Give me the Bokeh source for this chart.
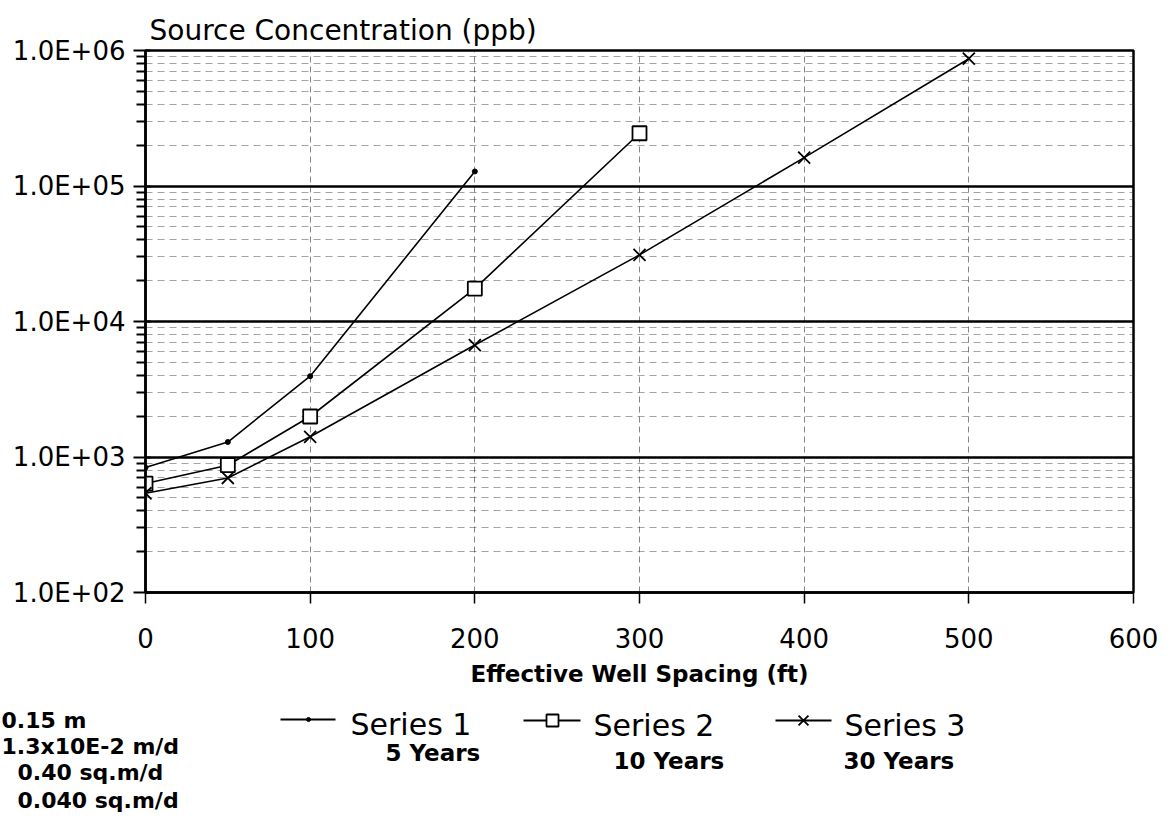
from bokeh.plotting import figure
from bokeh.layouts import column
from bokeh.models import Range1d, FixedTicker
from bokeh.core.properties import value
from bokeh.embed import file_html
from bokeh.resources import INLINE

# ---- data ----
spacing_s1 = [0, 50, 100, 200]
conc_s1 = [836, 1290, 3950, 128000]
spacing_s2 = [0, 50, 100, 200, 300]
conc_s2 = [637, 870, 1990, 17500, 245000]
spacing_s3 = [0, 50, 100, 200, 300, 400, 500]
conc_s3 = [540, 700, 1410, 6700, 31000, 162000, 870000]

series_names = ["Series 1", "Series 2", "Series 3"]
durations = ["5 Years", "10 Years", "30 Years"]
params = ["0.15 m", "1.3x10E-2 m/d", "0.40 sq.m/d", "0.040 sq.m/d"]

x_ticks = [0, 100, 200, 300, 400, 500, 600]
y_major = [1e2, 1e3, 1e4, 1e5, 1e6]
y_labels = ["1.0E+02", "1.0E+03", "1.0E+04", "1.0E+05", "1.0E+06"]
y_minor = [k * d for d in [1e2, 1e3, 1e4, 1e5] for k in range(2, 10)]

FONT = value("DejaVu Sans")

p = figure(width=1160, height=695, x_range=Range1d(0, 600), y_range=Range1d(100, 1e6),
           y_axis_type="log", output_backend="svg", toolbar_location=None,
           min_border_left=145, min_border_right=27, min_border_top=50, min_border_bottom=103,
           title="Source Concentration (ppb)")
p.frame_align = False
p.title.text_font = "DejaVu Sans"
p.title.text_font_size = "28px"
p.title.text_font_style = "normal"
p.title.text_color = "black"
p.title.align = "left"
p.title.standoff = 8
p.title.offset = 4

p.outline_line_color = "black"
p.outline_line_width = 2.5
p.background_fill_color = "white"
p.border_fill_color = "white"

# y axis
p.yaxis.ticker = FixedTicker(ticks=y_major, minor_ticks=y_minor)
p.yaxis.major_label_overrides = {int(v): s for v, s in zip(y_major, y_labels)}
p.yaxis.major_label_text_font = "DejaVu Sans"
p.yaxis.major_label_text_font_size = "26px"
p.yaxis.major_label_text_color = "black"
p.yaxis.major_tick_out = 12
p.yaxis.major_tick_in = 5
p.yaxis.minor_tick_out = 9
p.yaxis.minor_tick_in = 0
p.yaxis.major_tick_line_width = 2
p.yaxis.minor_tick_line_width = 2
p.yaxis.axis_line_width = 2.5
p.yaxis.major_label_standoff = 8

# x axis
p.xaxis.ticker = FixedTicker(ticks=x_ticks)
p.xaxis.major_label_text_font = "DejaVu Sans"
p.xaxis.major_label_text_font_size = "26px"
p.xaxis.major_label_text_color = "black"
p.xaxis.major_tick_out = 11
p.xaxis.major_tick_in = 0
p.xaxis.minor_tick_line_color = None
p.xaxis.major_tick_line_width = 1.5
p.xaxis.axis_line_width = 2.5
p.xaxis.major_label_standoff = 24
p.xaxis.axis_label = "Effective Well Spacing (ft)"
p.xaxis.axis_label_text_font = "DejaVu Sans"
p.xaxis.axis_label_text_font_size = "23px"
p.xaxis.axis_label_text_font_style = "bold"
p.xaxis.axis_label_text_color = "black"
p.xaxis.axis_label_standoff = 10

# grids
p.ygrid.grid_line_color = "black"
p.ygrid.grid_line_width = 2.5
p.ygrid.minor_grid_line_color = "#333333"
p.ygrid.minor_grid_line_alpha = 0.45
p.ygrid.minor_grid_line_dash = "7 5"
p.ygrid.minor_grid_line_width = 1
p.xgrid.grid_line_color = "#333333"
p.xgrid.grid_line_alpha = 0.6
p.xgrid.grid_line_dash = "6 4"
p.xgrid.grid_line_width = 1

# series
p.line(spacing_s1, conc_s1, line_color="black", line_width=1.6)
p.scatter(spacing_s1, conc_s1, marker="circle", size=5, fill_color="black", line_color="black")
p.line(spacing_s2, conc_s2, line_color="black", line_width=1.6)
p.scatter(spacing_s2, conc_s2, marker="square", size=14, fill_color="white", line_color="black", line_width=1.8)
p.line(spacing_s3, conc_s3, line_color="black", line_width=1.6)
p.scatter(spacing_s3, conc_s3, marker="x", size=17, line_color="black", line_width=1.8)

# ---- legend / notes panel (coordinates are page pixels) ----
lg = figure(width=1160, height=126, x_range=Range1d(0, 1160), y_range=Range1d(821, 695),
            output_backend="svg", toolbar_location=None, min_border=0)
lg.frame_align = False
lg.axis.visible = False
lg.grid.visible = False
lg.outline_line_color = None
lg.background_fill_color = "white"
lg.border_fill_color = "white"

lg.text(x=[1, 1, 17, 17], y=[719.5, 745.5, 772, 799.5], text=params, text_font=FONT,
        text_font_size="22px", text_font_style="bold", text_baseline="middle", text_align="left",
        text_color="black")

sample_x0 = [280, 523, 775]
sample_x1 = [335, 580, 831]
sample_y = [719, 720, 720]
sample_mid = [308, 552, 803]
lg.segment(x0=sample_x0, y0=sample_y, x1=sample_x1, y1=sample_y, line_color="black", line_width=2)
lg.scatter([sample_mid[0]], [sample_y[0]], marker="circle", size=4, fill_color="black", line_color="black")
lg.scatter([sample_mid[1]], [sample_y[1]], marker="square", size=12, fill_color="white", line_color="black", line_width=1.8)
lg.scatter([sample_mid[2]], [sample_y[2]], marker="x", size=14, line_color="black", line_width=1.8)

lg.text(x=[350, 593, 844], y=[724, 725, 725], text=series_names, text_font=FONT,
        text_font_size="30px", text_baseline="middle", text_align="left", text_color="black")
lg.text(x=[385, 613, 843], y=[752.5, 760, 760], text=durations, text_font=FONT,
        text_font_size="23px", text_font_style="bold", text_baseline="middle", text_align="left",
        text_color="black")

layout = column(p, lg, spacing=0)
open("out.html", "w").write(file_html(layout, INLINE))
